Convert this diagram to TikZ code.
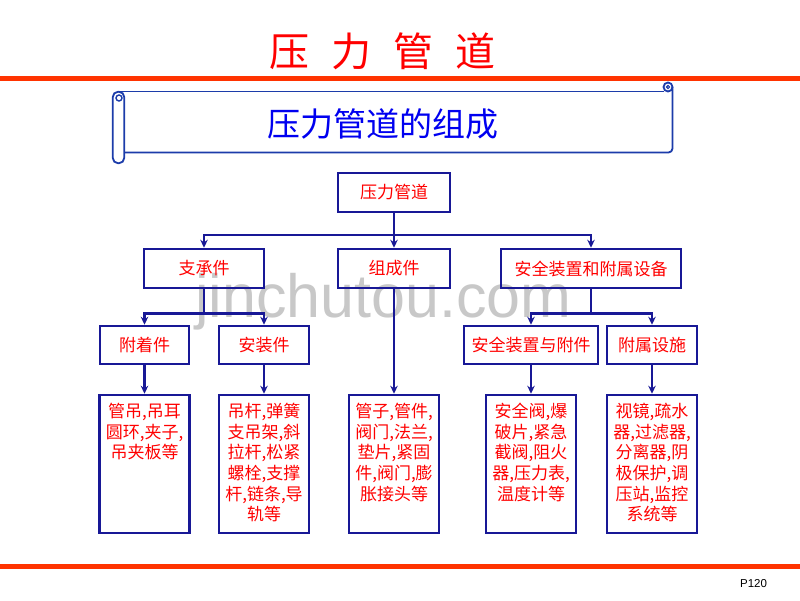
\documentclass[tikz,border=0pt]{standalone}
\usepackage{fontspec}
\newfontfamily\cjk{Noto Sans CJK SC}
\newfontfamily\arial{Liberation Sans}
\usetikzlibrary{arrows.meta}
\definecolor{boxblue}{RGB}{24,24,150}
\definecolor{txtred}{RGB}{255,0,0}
\definecolor{rulered}{RGB}{255,51,0}
\definecolor{scrollblue}{RGB}{28,60,170}
\definecolor{subblue}{RGB}{0,0,240}
\definecolor{wmgray}{RGB}{200,200,200}
\tikzset{
  box/.style={draw=boxblue, line width=2.5pt, inner sep=0pt, text=txtred,
    font=\cjk\fontsize{17}{20.7}\selectfont},
  lvl/.style={box, minimum height=39pt},
  leaf/.style={box, minimum width=90pt, minimum height=138pt},
  conn/.style={draw=boxblue, line width=2.5pt, -{Stealth[length=8pt,width=7.5pt]}},
  scrollline/.style={draw=scrollblue, line width=1.8pt}
}
\newcommand{\leaftext}[1]{\parbox[c][122pt][t]{88pt}{\centering #1}}
\begin{document}
\begin{tikzpicture}[x=1pt,y=-1pt]
\useasboundingbox (0,0) rectangle (800,600);
\fill[white] (0,0) rectangle (800,600);

% watermark
\node[anchor=base west, font=\arial\fontsize{61}{61}\selectfont, text=wmgray, inner sep=0pt] (wm) at (195,317) {jinchutou.com};

% title and rules
\node[anchor=base, text=txtred, font=\cjk\fontsize{40}{40}\selectfont, inner sep=0pt] (title) at (382.5,66) {压\hspace{22pt}力\hspace{22pt}管\hspace{22pt}道};
\fill[rulered] (0,76) rectangle (800,81);
\fill[rulered] (0,564) rectangle (800,568.5);
\node[anchor=base, font=\arial\fontsize{11.5}{12}\selectfont, inner sep=0pt] (page) at (753.5,587.5) {P120};

% scroll banner
\draw[scrollline] (118,91.5) -- (664,91.5);
\draw[scrollline, rounded corners=4pt] (672.5,87) -- (672.5,152.5) -- (124.3,152.5);
\draw[scrollline] (668,87) circle[radius=4.5];
\draw[scrollline, line width=1.2pt] (668,87) circle[radius=1.6];
\draw[scrollline, rounded corners=5.5pt] (112.7,91.7) rectangle (124.3,163.3);
\draw[scrollline, line width=1.4pt] (119,98) circle[radius=3];
\node[anchor=base, text=subblue, font=\cjk\fontsize{33}{33}\selectfont, inner sep=0pt] (sub) at (382.5,136.5) {压力管道的组成};

% level 1 and 2
\node[lvl, minimum width=112pt] (root) at (394,192.5) {压力管道};
\node[lvl, minimum width=120pt] (zcj) at (204,268.5) {支承件};
\node[lvl, minimum width=112pt] (zcj2) at (394,268.5) {组成件};
\node[lvl, minimum width=180pt] (aqzz) at (591,268.5) {安全装置和附属设备};

% level 3
\node[lvl, minimum width=89pt, minimum height=38pt] (fzj) at (144.5,345) {附着件};
\node[lvl, minimum width=90pt, minimum height=38pt] (azj) at (264,345) {安装件};
\node[lvl, minimum width=134pt, minimum height=38pt] (aqfj) at (531,345) {安全装置与附件};
\node[lvl, minimum width=90pt, minimum height=38pt] (fsss) at (652,345) {附属设施};

% leaves
\node[leaf] (b1) at (144.5,464) {\leaftext{管吊,吊耳\\圆环,夹子,\\吊夹板等}};
\node[leaf] (b2) at (264,464) {\leaftext{吊杆,弹簧\\支吊架,斜\\拉杆,松紧\\螺栓,支撑\\杆,链条,导\\轨等}};
\node[leaf] (b3) at (394,464) {\leaftext{管子,管件,\\阀门,法兰,\\垫片,紧固\\件,阀门,膨\\胀接头等}};
\node[leaf] (b4) at (531,464) {\leaftext{安全阀,爆\\破片,紧急\\截阀,阻火\\器,压力表,\\温度计等}};
\node[leaf] (b5) at (652,464) {\leaftext{视镜,疏水\\器,过滤器,\\分离器,阴\\极保护,调\\压站,监控\\系统等}};

% connectors
\draw[conn] (root.south) -- ++(0,21.5) -| (zcj.north);
\draw[conn] (root.south) -- (zcj2.north);
\draw[conn] (root.south) -- ++(0,21.5) -| (aqzz.north);
\draw[conn] (zcj.south) -- ++(0,24) -| (fzj.north);
\draw[conn] (zcj.south) -- ++(0,24) -| (azj.north);
\draw[conn] (aqzz.south) -- ++(0,24) -| (aqfj.north);
\draw[conn] (aqzz.south) -- ++(0,24) -| (fsss.north);
\draw[conn] (fzj.south) -- (b1.north);
\draw[conn] (azj.south) -- (b2.north);
\draw[conn] (zcj2.south) -- (b3.north);
\draw[conn] (aqfj.south) -- (b4.north);
\draw[conn] (fsss.south) -- (b5.north);
\end{tikzpicture}
\end{document}
